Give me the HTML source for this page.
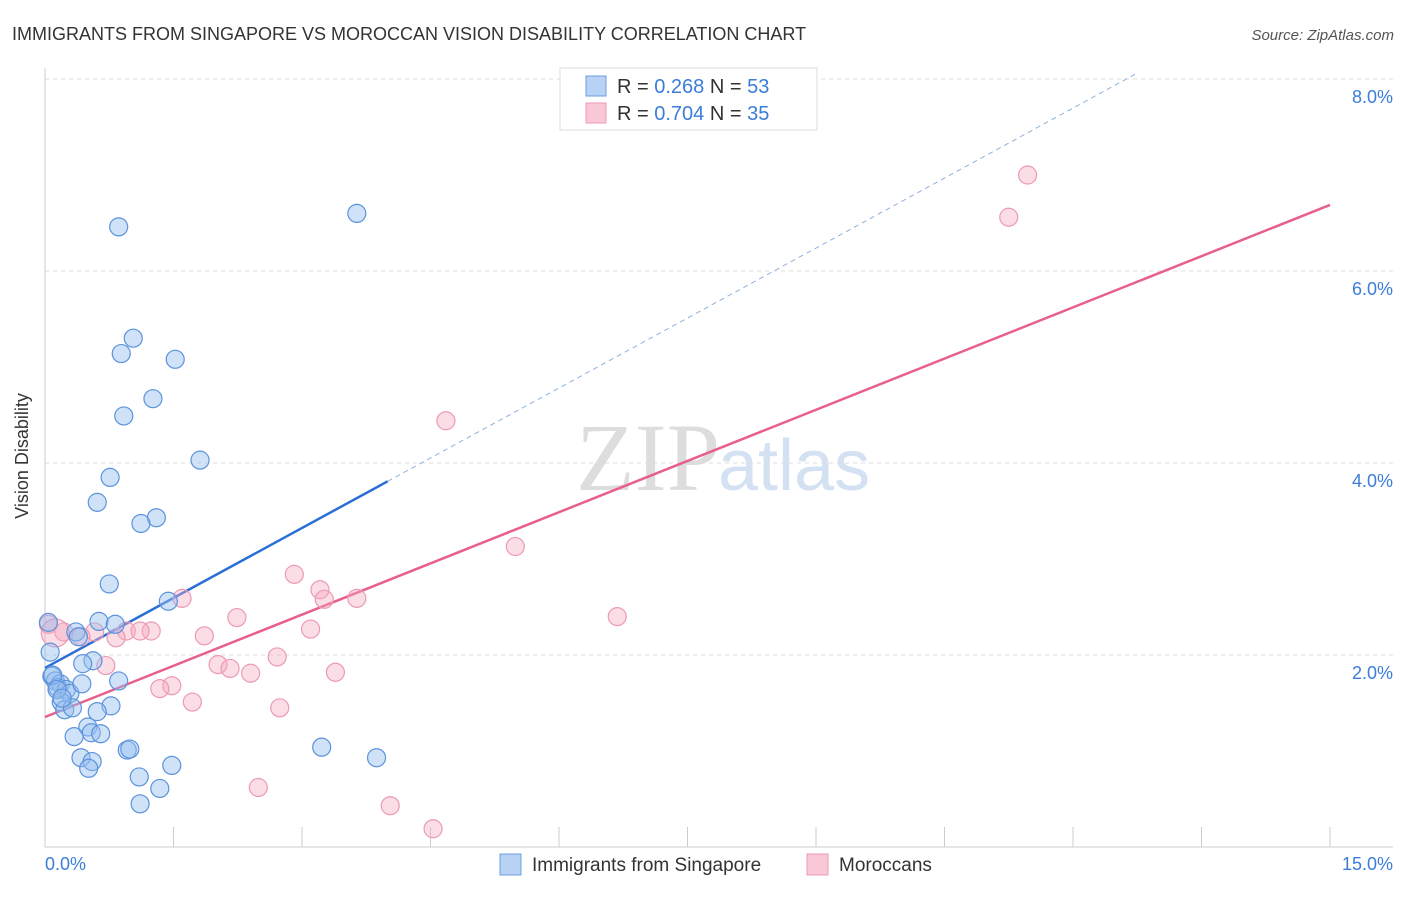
<!DOCTYPE html>
<html><head><meta charset="utf-8"><style>
body{margin:0;background:#fff;font-family:"Liberation Sans",sans-serif}
</style></head><body>
<svg width="1406" height="892" xmlns="http://www.w3.org/2000/svg">
<text x="12" y="40" font-size="18" fill="#333">IMMIGRANTS FROM SINGAPORE VS MOROCCAN VISION DISABILITY CORRELATION CHART</text>
<text x="1394" y="40" font-size="15" fill="#555" text-anchor="end" font-style="italic">Source: ZipAtlas.com</text>
<text x="720" y="490" font-size="96" fill="#ddd" text-anchor="end" font-family="Liberation Serif">ZIP</text>
<text x="718" y="490" font-size="72" fill="#d3e1f3">atlas</text>
<g id="grid"></g>
<line x1="45" y1="68" x2="45" y2="847" stroke="#ccc"/>
<line x1="45" y1="847" x2="1393" y2="847" stroke="#ccc"/>
<g id="xticks"></g>
<text x="28" y="456" font-size="18" fill="#333" text-anchor="middle" transform="rotate(-90 28 456)">Vision Disability</text>
<text x="45" y="870" font-size="18" fill="#3b7dd8">0.0%</text>
<text x="1393" y="870" font-size="18" fill="#3b7dd8" text-anchor="end">15.0%</text>
<g id="lines"></g>
<g id="pts"></g>
<g>
<rect x="560" y="68" width="257" height="62" fill="#fff" stroke="#ddd"/>
<rect x="586" y="76" width="20" height="20" fill="#b8d2f5" stroke="#6d9fe0"/>
<text x="617" y="93" font-size="20" fill="#333">R = <tspan fill="#3b7dd8">0.268</tspan>   N = <tspan fill="#3b7dd8">53</tspan></text>
<rect x="586" y="103" width="20" height="20" fill="#f9c8d6" stroke="#ec9ab3"/>
<text x="617" y="120" font-size="20" fill="#333">R = <tspan fill="#3b7dd8">0.704</tspan>   N = <tspan fill="#3b7dd8">35</tspan></text>
</g>
<g>
<rect x="500" y="854" width="21" height="21" fill="#b8d2f5" stroke="#6d9fe0"/>
<text x="532" y="871" font-size="19" fill="#333">Immigrants from Singapore</text>
<rect x="807" y="854" width="21" height="21" fill="#f9c8d6" stroke="#ec9ab3"/>
<text x="839" y="871" font-size="19" fill="#333">Moroccans</text>
</g>
</svg>
<script>
const yTicks=[2,4,6,8];
const yTickLabels=["2.0%","4.0%","6.0%","8.0%"];
const xTicks=[0,1.5,3,4.5,6,7.5,9,10.5,12,13.5,15];
const blueX=[0.86,3.64,1.03,0.89,1.52,1.26,0.92,1.81,0.76,0.61,1.30,1.12,0.75,1.44,0.63,0.82,0.36,0.39,0.04,0.06,0.56,0.44,0.08,0.12,0.18,0.15,0.25,0.29,0.43,0.86,0.19,0.23,0.32,0.77,0.61,0.50,0.54,0.65,0.34,0.96,0.99,0.42,0.55,0.51,1.48,3.23,3.87,1.10,1.34,1.11,0.09,0.14,0.20];
const blueY=[6.46,6.60,5.30,5.14,5.08,4.67,4.49,4.03,3.85,3.59,3.43,3.37,2.74,2.56,2.35,2.32,2.24,2.19,2.34,2.03,1.94,1.91,1.78,1.73,1.70,1.66,1.64,1.60,1.70,1.73,1.51,1.43,1.45,1.47,1.41,1.25,1.19,1.18,1.15,1.01,1.02,0.93,0.89,0.82,0.85,1.04,0.93,0.73,0.61,0.45,1.79,1.64,1.55];
const pinkX=[11.47,11.25,4.68,5.49,2.91,3.21,1.60,3.26,3.64,2.24,6.68,3.10,1.86,0.95,1.24,1.11,0.58,0.22,0.04,0.42,0.83,2.02,2.16,2.71,2.40,3.39,0.71,1.48,1.34,1.72,2.74,2.49,4.03,4.53,0.12];
const pinkY=[7.00,6.56,4.44,3.13,2.84,2.68,2.59,2.58,2.59,2.39,2.40,2.27,2.20,2.25,2.25,2.25,2.24,2.24,2.32,2.19,2.18,1.90,1.86,1.98,1.81,1.82,1.89,1.68,1.65,1.51,1.45,0.62,0.43,0.19,2.23];
const blueLine=[1.865,0.486], pinkLine=[1.354,0.3556];
const NS="http://www.w3.org/2000/svg";
const sx=v=>45+v/15*1285, sy=v=>847-v*96;
function mk(t,a,p){const e=document.createElementNS(NS,t);for(const k in a)e.setAttribute(k,a[k]);document.getElementById(p).appendChild(e);return e;}
yTicks.forEach((t,i)=>{
 const l=mk('line',{x1:45,x2:1393,y1:sy(t),y2:sy(t),stroke:'#ddd','stroke-dasharray':'4,4'},'grid');
 
 
 const tx=mk('text',{x:1393,y:sy(t)+24,'font-size':18,fill:'#3b7dd8','text-anchor':'end'},'grid');
 tx.textContent=yTickLabels[i];
 
 
});
xTicks.forEach(t=>{
 const l=mk('line',{x1:sx(t),x2:sx(t),y1:827,y2:847,stroke:'#ccc'},'xticks');
 
 
});
// regression lines
let l1=mk('line',{x1:sx(0),y1:sy(blueLine[0]),x2:sx(4),y2:sy(blueLine[0]+blueLine[1]*4),stroke:'#2a6fd6','stroke-width':2.5},'lines');


const xe=(8.05-blueLine[0])/blueLine[1];
let l2=mk('line',{x1:sx(4),y1:sy(blueLine[0]+blueLine[1]*4),x2:sx(xe),y2:sy(8.05),stroke:'#8fb0dd','stroke-width':1,'stroke-dasharray':'5,4'},'lines');


let l3=mk('line',{x1:sx(0),y1:sy(pinkLine[0]),x2:sx(15),y2:sy(pinkLine[0]+pinkLine[1]*15),stroke:'#e8608a','stroke-width':2.5},'lines');


pinkX.forEach((x,i)=>{
 const c=mk('circle',{cx:sx(x),cy:sy(pinkY[i]),r:i==pinkX.length-1?14:9,fill:'rgba(246,170,193,0.4)',stroke:'#ec9ab3','stroke-width':1.2},'pts');
 
 
});
blueX.forEach((x,i)=>{
 const c=mk('circle',{cx:sx(x),cy:sy(blueY[i]),r:9,fill:'rgba(150,190,240,0.45)',stroke:'#5b93dc','stroke-width':1.2},'pts');
 
 
});
</script>
</body></html>
